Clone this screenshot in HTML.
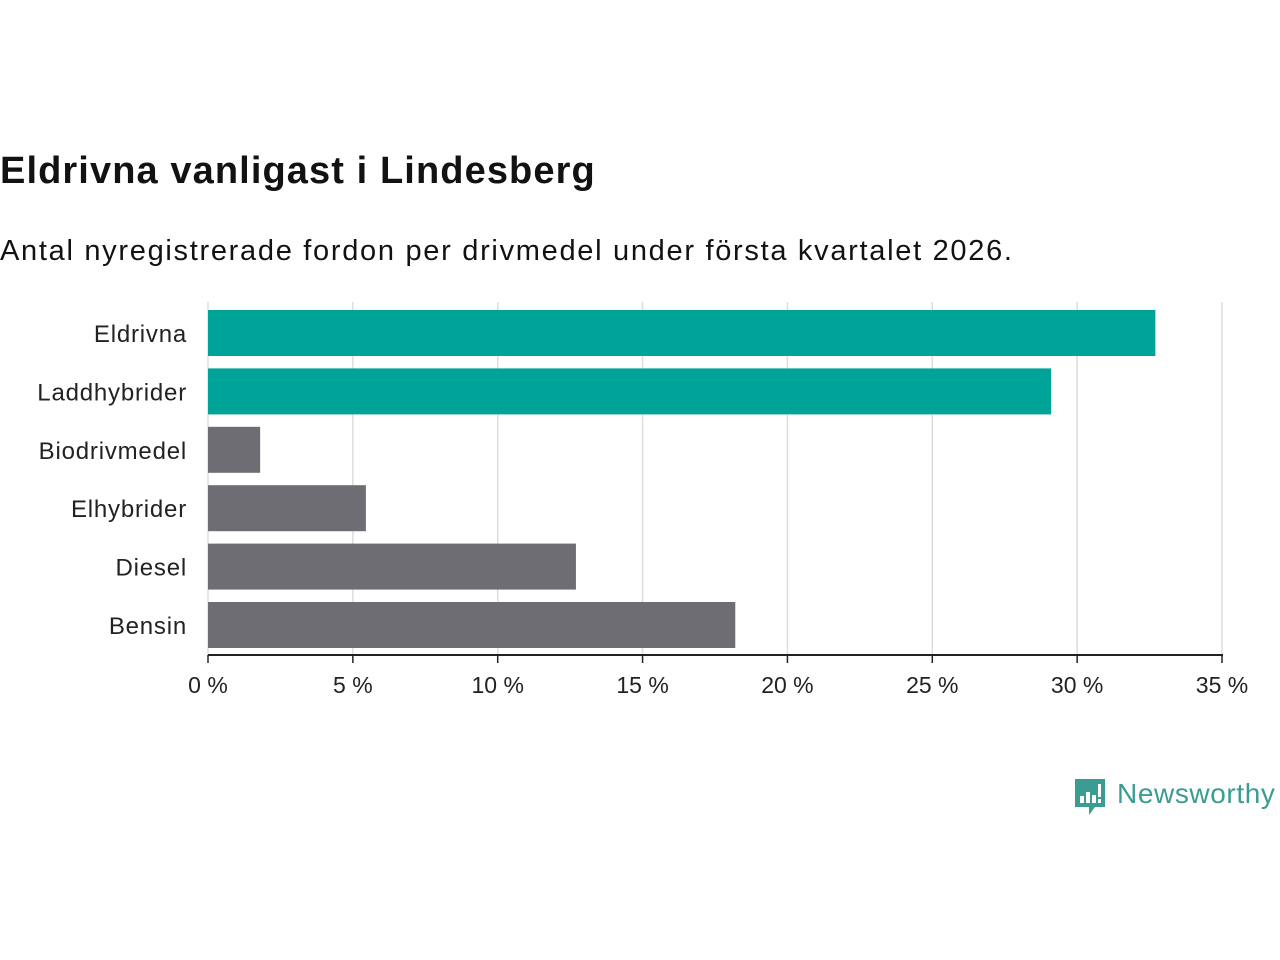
<!DOCTYPE html>
<html><head><meta charset="utf-8"><style>
body{margin:0;width:1280px;height:960px;background:#fff;font-family:"Liberation Sans",sans-serif;overflow:hidden;position:relative}
#t{position:absolute;left:0;top:150px;font-size:38px;font-weight:bold;color:#121212;margin:0;letter-spacing:1.1px;white-space:nowrap}
#s{position:absolute;left:0;top:235px;font-size:29px;color:#121212;margin:0;letter-spacing:1.7px;white-space:nowrap}
#c{position:absolute;left:0;top:0}
</style></head><body>
<h1 id="t">Eldrivna vanligast i Lindesberg</h1>
<p id="s">Antal nyregistrerade fordon per drivmedel under första kvartalet 2026.</p>
<svg id="c" width="1280" height="960"></svg>
<script>
const categories=["Eldrivna","Laddhybrider","Biodrivmedel","Elhybrider","Diesel","Bensin"];
const values=[32.7,29.1,1.8,5.45,12.7,18.2];
const highlight=[true,true,false,false,false,false];
const ticks=[0,5,10,15,20,25,30,35];
const tickLabels=["0 %","5 %","10 %","15 %","20 %","25 %","30 %","35 %"];
const ns="http://www.w3.org/2000/svg",svg=document.getElementById('c');
const x0=208,x1=1222,plotTop=302,rowH=58.4,barH=46,axisY=655;
const xs=v=>x0+(v/35)*(x1-x0);
function mk(t,a){const e=document.createElementNS(ns,t);for(const k in a)e.setAttribute(k,a[k]);svg.appendChild(e);return e;}
ticks.forEach((t,i)=>{
 const g=mk('line',{x1:xs(t),x2:xs(t),y1:plotTop,y2:axisY,stroke:'#dddddd','stroke-width':1.5});
 
 
 const tk=mk('line',{x1:xs(t),x2:xs(t),y1:axisY,y2:axisY+8,stroke:'#222','stroke-width':1.5});
 
 
 const l=mk('text',{x:xs(t),y:693,'text-anchor':'middle','font-size':23,fill:'#222','font-family':'Liberation Sans, sans-serif'});
 l.textContent=tickLabels[i];
 
 
});
categories.forEach((c,i)=>{
 const y=plotTop+8+i*rowH;
 const r=mk('rect',{x:x0,y:y,width:xs(values[i])-x0,height:barH,fill:highlight[i]?'#00a398':'#6e6d74'});
 
 
 const l=mk('text',{x:187,y:y+barH/2+9,'text-anchor':'end','font-size':24,fill:'#222','font-family':'Liberation Sans, sans-serif','letter-spacing':0.8});
 l.textContent=c;
 
 
});
const ax=mk('line',{x1:x0,x2:x1+1,y1:axisY,y2:axisY,stroke:'#222','stroke-width':2});


</script>
<div style="position:absolute;left:1073px;top:777px;display:flex;align-items:center">
<svg width="34" height="42" viewBox="0 0 34 42"><path d="M2 2h30v28H22l-6 8v-8H2z" fill="#3b9c91"/><rect x="7" y="19" width="4" height="7" fill="#fff"/><rect x="13" y="15" width="4" height="11" fill="#fff"/><rect x="19" y="18" width="4" height="8" fill="#fff"/><rect x="25" y="7" width="3" height="13" fill="#fff"/><rect x="25" y="22" width="3" height="4" fill="#fff"/></svg>
<span style="font-size:28px;color:#3b9c91;margin-left:10px;margin-top:-8px;letter-spacing:0.6px">Newsworthy</span></div>
</body></html>
